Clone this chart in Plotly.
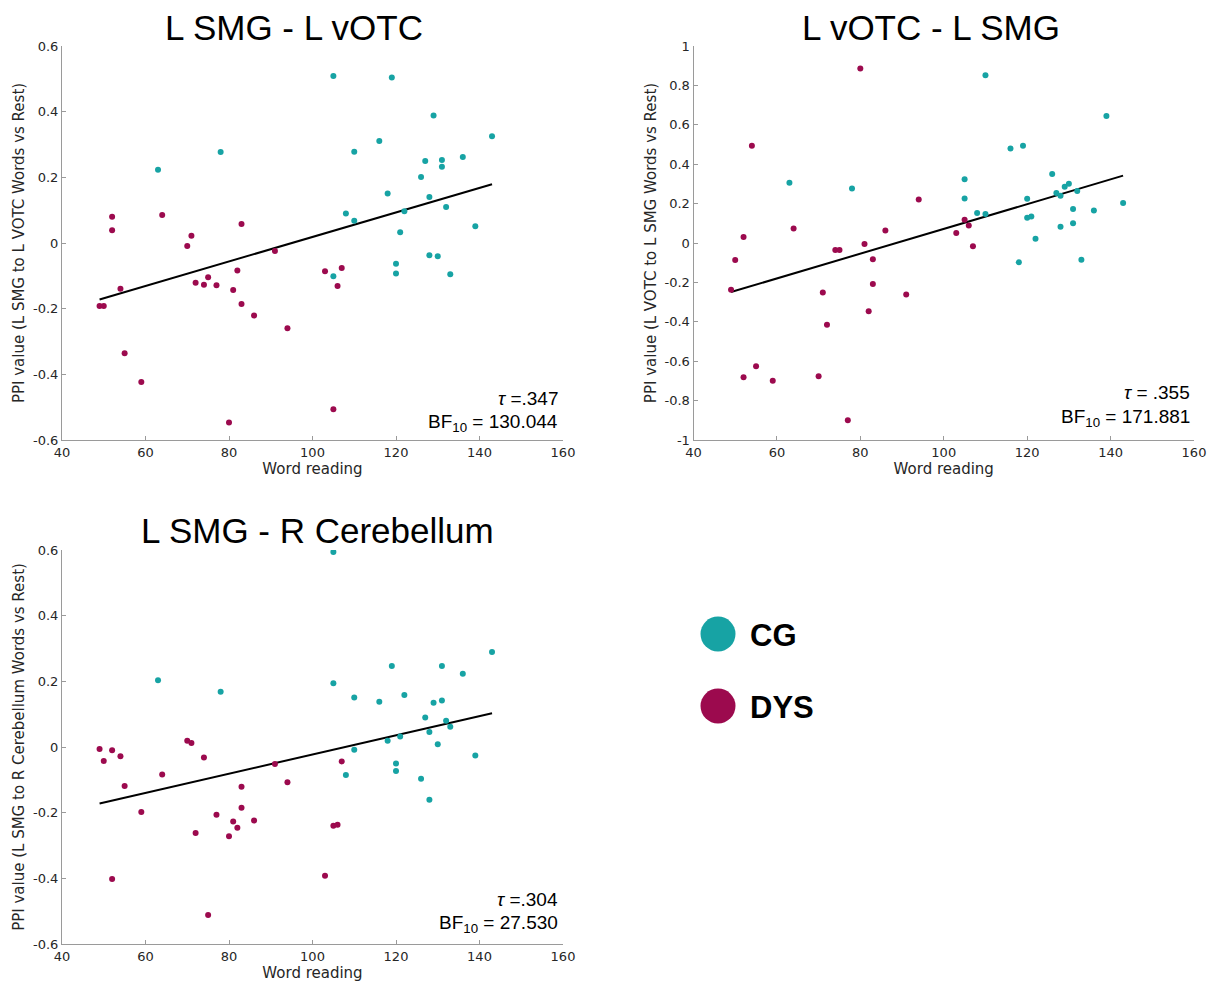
import plotly.graph_objects as go

# ---------------- data ----------------
# Panel 1: L SMG - L vOTC
p1_cg_x = [63, 78, 105, 105, 108, 110, 110, 116, 118, 119, 120, 120, 121, 122, 126, 127, 128, 128, 129, 130, 131, 131, 132, 133, 136, 139, 143]
p1_cg_y = [0.223, 0.277, 0.509, -0.101, 0.090, 0.278, 0.068, 0.311, 0.151, 0.504, -0.063, -0.093, 0.033, 0.097, 0.201, 0.250, 0.140, -0.037, 0.388, -0.040, 0.253, 0.232, 0.110, -0.095, 0.262, 0.051, 0.325]
p1_dys_x = [49, 50, 52, 52, 54, 55, 59, 64, 70, 71, 72, 74, 75, 77, 80, 81, 82, 83, 83, 86, 91, 94, 103, 105, 106, 107]
p1_dys_y = [-0.192, -0.192, 0.080, 0.039, -0.139, -0.336, -0.423, 0.085, -0.009, 0.022, -0.121, -0.127, -0.104, -0.129, -0.547, -0.143, -0.084, 0.058, -0.186, -0.221, -0.024, -0.260, -0.086, -0.506, -0.131, -0.076]
p1_fit_x = [49, 143]
p1_fit_y = [-0.172, 0.179]

# Panel 2: L vOTC - L SMG
p2_cg_x = [63, 78, 105, 105, 108, 110, 110, 116, 118, 119, 120, 120, 121, 122, 126, 127, 128, 128, 129, 130, 131, 131, 132, 133, 136, 139, 143]
p2_cg_y = [0.306, 0.277, 0.323, 0.226, 0.152, 0.851, 0.147, 0.480, -0.098, 0.494, 0.225, 0.128, 0.135, 0.022, 0.350, 0.254, 0.240, 0.083, 0.286, 0.301, 0.173, 0.100, 0.264, -0.085, 0.165, 0.645, 0.203]
p2_dys_x = [49, 50, 52, 52, 54, 55, 59, 64, 70, 71, 72, 74, 75, 77, 80, 81, 82, 83, 83, 86, 91, 94, 103, 105, 106, 107]
p2_dys_y = [-0.237, -0.086, 0.030, -0.682, 0.494, -0.626, -0.699, 0.074, -0.677, -0.251, -0.415, -0.036, -0.036, -0.900, 0.886, -0.005, -0.347, -0.083, -0.208, 0.064, -0.262, 0.221, 0.051, 0.118, 0.089, -0.017]
p2_fit_x = [49, 143]
p2_fit_y = [-0.249, 0.342]

# Panel 3: L SMG - R Cerebellum
p3_cg_x = [63, 78, 105, 105, 108, 110, 110, 116, 118, 119, 120, 120, 121, 122, 126, 127, 128, 128, 129, 130, 131, 131, 132, 133, 136, 139, 143]
p3_cg_y = [0.203, 0.168, 0.594, 0.194, -0.085, 0.151, -0.008, 0.138, 0.019, 0.247, -0.050, -0.073, 0.032, 0.158, -0.097, 0.090, 0.046, -0.161, 0.135, 0.008, 0.247, 0.142, 0.080, 0.062, 0.223, -0.026, 0.289]
p3_dys_x = [49, 50, 52, 52, 54, 55, 59, 64, 70, 71, 72, 74, 75, 77, 80, 81, 82, 83, 83, 86, 91, 94, 103, 105, 106, 107]
p3_dys_y = [-0.006, -0.043, -0.010, -0.402, -0.028, -0.119, -0.198, -0.084, 0.019, 0.012, -0.262, -0.032, -0.512, -0.206, -0.272, -0.227, -0.246, -0.121, -0.185, -0.224, -0.052, -0.107, -0.392, -0.240, -0.237, -0.044]
p3_fit_x = [49, 143]
p3_fit_y = [-0.172, 0.103]

titles = ["L SMG - L vOTC", "L vOTC - L SMG", "L SMG - R Cerebellum"]
ytitles = ["PPI value (L SMG to L VOTC Words vs Rest)",
           "PPI value (L VOTC to L SMG Words vs Rest)",
           "PPI value (L SMG to R Cerebellum Words vs Rest)"]
xtitle = "Word reading"
tau_texts = ["<i>τ</i> =.347", "<i>τ</i> = .355", "<i>τ</i> =.304"]
bf_texts = ["BF<sub>10</sub> = 130.044", "BF<sub>10</sub> = 171.881", "BF<sub>10</sub> = 27.530"]
x_ticks = [40, 60, 80, 100, 120, 140, 160]
y_ticks_a = [-0.6, -0.4, -0.2, 0, 0.2, 0.4, 0.6]
y_ticklabels_a = ["-0.6", "-0.4", "-0.2", "0", "0.2", "0.4", "0.6"]
y_ticks_b = [-1, -0.8, -0.6, -0.4, -0.2, 0, 0.2, 0.4, 0.6, 0.8, 1]
y_ticklabels_b = ["-1", "-0.8", "-0.6", "-0.4", "-0.2", "0", "0.2", "0.4", "0.6", "0.8", "1"]
groups = ["CG", "DYS"]

CG_COLOR = "#17a3a4"
DYS_COLOR = "#9c0a4e"

W, H = 1215, 986

def px(x):
    return x / W

def py(y):
    return 1 - y / H

fig = go.Figure()

panels = [
    (p1_cg_x, p1_cg_y, p1_dys_x, p1_dys_y, p1_fit_x, p1_fit_y),
    (p2_cg_x, p2_cg_y, p2_dys_x, p2_dys_y, p2_fit_x, p2_fit_y),
    (p3_cg_x, p3_cg_y, p3_dys_x, p3_dys_y, p3_fit_x, p3_fit_y),
]
for i, (cx, cy, dx, dy, fx, fy) in enumerate(panels):
    xa = "x" if i == 0 else f"x{i+1}"
    ya = "y" if i == 0 else f"y{i+1}"
    fig.add_trace(go.Scatter(x=fx, y=fy, mode="lines", line=dict(color="black", width=2),
                             xaxis=xa, yaxis=ya, showlegend=False, hoverinfo="skip"))
    fig.add_trace(go.Scatter(x=dx, y=dy, mode="markers", marker=dict(color=DYS_COLOR, size=6),
                             xaxis=xa, yaxis=ya, showlegend=False, name="DYS"))
    fig.add_trace(go.Scatter(x=cx, y=cy, mode="markers", marker=dict(color=CG_COLOR, size=6),
                             xaxis=xa, yaxis=ya, showlegend=False, name="CG"))

# axes domains (pixel positions of plot boxes)
boxes = [(62, 563, 46, 440), (693.5, 1194, 46, 440), (62, 563, 550, 944)]
tick_font = dict(family="DejaVu Sans", size=13, color="#262626")
axis_common = dict(showline=True, linecolor="#9a9a9a", linewidth=1, ticks="inside", ticklen=4,
                   tickcolor="#9a9a9a", showgrid=False, zeroline=False, tickfont=tick_font,
                   mirror=False, fixedrange=True, automargin=False)

layout = {}
for i, (l, r, t, b) in enumerate(boxes):
    xk = "xaxis" if i == 0 else f"xaxis{i+1}"
    yk = "yaxis" if i == 0 else f"yaxis{i+1}"
    ya = "y" if i == 0 else f"y{i+1}"
    xa = "x" if i == 0 else f"x{i+1}"
    if i == 1:
        yv, yt, yr = y_ticks_b, y_ticklabels_b, [-1, 1]
    else:
        yv, yt, yr = y_ticks_a, y_ticklabels_a, [-0.6, 0.6]
    layout[xk] = dict(axis_common, domain=[px(l), px(r)], range=[40, 160], anchor=ya,
                      tickvals=x_ticks, ticktext=[str(v) for v in x_ticks],
                      title=dict(text=xtitle, font=dict(family="DejaVu Sans", size=15, color="#262626"), standoff=3))
    layout[yk] = dict(axis_common, domain=[py(b), py(t)], range=yr, anchor=xa,
                      tickvals=yv, ticktext=yt,
                      title=dict(text=ytitles[i], font=dict(family="DejaVu Sans", size=15, color="#262626"), standoff=4))

annotations = []
title_pos = [(294, 27), (931, 27), (317, 530)]
for i, (tx, ty) in enumerate(title_pos):
    annotations.append(dict(text=titles[i], x=px(tx), y=py(ty), xref="paper", yref="paper",
                            xanchor="center", yanchor="middle", showarrow=False,
                            font=dict(family="Liberation Sans, Arial", size=35, color="black")))
stat_pos = [(560, 398, 423), (1192, 392, 418), (560, 899, 924)]
for i, (rx, y1, y2) in enumerate(stat_pos):
    annotations.append(dict(text=tau_texts[i], x=px(rx), y=py(y1), xref="paper", yref="paper",
                            xanchor="right", yanchor="middle", showarrow=False,
                            font=dict(family="Liberation Sans, Arial", size=19, color="black")))
    annotations.append(dict(text=bf_texts[i], x=px(rx), y=py(y2), xref="paper", yref="paper",
                            xanchor="right", yanchor="middle", showarrow=False,
                            font=dict(family="Liberation Sans, Arial", size=19, color="black")))

# legend (drawn manually)
legend_items = [(groups[0], CG_COLOR, 634), (groups[1], DYS_COLOR, 706)]
shapes = []
for name, col, cyp in legend_items:
    shapes.append(dict(type="circle", xref="paper", yref="paper",
                       x0=px(700.5), x1=px(735.5), y0=py(cyp + 17.5), y1=py(cyp - 17.5),
                       fillcolor=col, line=dict(color=col, width=0)))
    annotations.append(dict(text=f"<b>{name}</b>", x=px(748), y=py(cyp + 1), xref="paper", yref="paper",
                            xanchor="left", yanchor="middle", showarrow=False,
                            font=dict(family="Liberation Sans, Arial", size=31, color="black")))

fig.update_layout(**layout)
fig.update_layout(width=W, height=H, margin=dict(l=0, r=0, t=0, b=0),
                  paper_bgcolor="white", plot_bgcolor="white",
                  annotations=annotations, shapes=shapes, showlegend=False)

fig.write_html("out.html", config={"displayModeBar": False})
